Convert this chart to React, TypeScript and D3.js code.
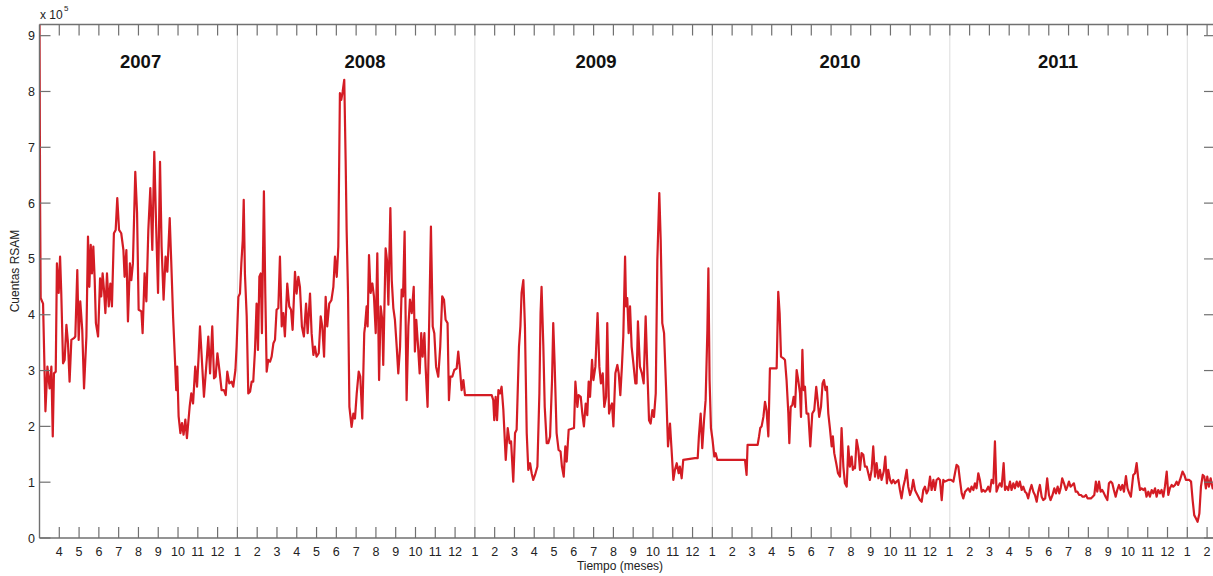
import React from 'react';
import * as d3 from 'd3';

// RSAM counts (x 10^5) against time, in months counted from January 2007
const seg2007: [number, number][] = [
  [2.00, 9.3], [2.03, 6.0], [2.06, 4.30], [2.18, 4.20], [2.30, 2.27], [2.40, 3.07], [2.51, 2.68], [2.60, 3.07],
  [2.67, 1.82], [2.73, 2.95], [2.82, 2.98], [2.88, 4.92], [2.97, 4.39], [3.04, 5.04], [3.10, 4.39], [3.19, 3.13],
  [3.27, 3.19], [3.36, 3.82], [3.44, 3.49], [3.52, 2.80], [3.61, 3.55], [3.74, 3.58], [3.81, 3.61], [3.91, 4.80],
  [3.98, 3.55], [4.06, 4.24], [4.16, 3.73], [4.25, 2.68], [4.37, 3.61], [4.45, 5.40], [4.52, 4.50], [4.59, 5.25],
  [4.65, 4.74], [4.72, 5.22], [4.79, 4.62], [4.85, 3.85], [4.96, 3.61], [5.06, 4.65], [5.12, 4.33], [5.19, 4.74],
  [5.26, 4.44], [5.33, 4.03], [5.41, 4.74], [5.50, 4.15], [5.58, 4.56], [5.66, 4.15], [5.76, 5.46], [5.85, 5.52],
  [5.93, 6.09], [6.02, 5.52], [6.13, 5.46], [6.24, 5.16], [6.30, 4.68], [6.39, 5.16], [6.47, 3.88], [6.57, 4.92],
  [6.64, 4.62], [6.72, 4.92], [6.84, 6.56], [6.93, 5.82], [7.01, 4.09], [7.15, 4.06], [7.21, 3.67], [7.31, 4.74],
  [7.40, 4.24], [7.50, 5.52], [7.60, 6.27], [7.70, 5.16], [7.80, 6.92], [7.89, 5.64], [7.99, 4.39], [8.09, 6.74],
  [8.17, 5.22], [8.27, 4.27], [8.37, 5.04], [8.46, 4.77], [8.58, 5.73], [8.66, 4.92], [8.75, 3.97], [8.86, 3.07],
  [8.91, 2.65], [8.96, 3.07], [9.03, 2.18], [9.12, 1.88], [9.20, 2.06], [9.28, 1.85], [9.37, 2.12], [9.45, 1.79],
  [9.59, 2.36], [9.67, 2.59], [9.76, 2.41], [9.87, 3.07], [9.96, 2.71], [10.04, 3.25], [10.11, 3.79], [10.31, 2.53],
  [10.45, 3.19], [10.53, 3.61], [10.62, 2.95], [10.73, 3.79], [10.82, 2.86], [10.90, 2.89], [10.99, 3.31], [11.09, 3.01],
  [11.20, 2.65], [11.32, 2.65], [11.41, 2.56], [11.49, 2.98], [11.59, 2.77], [11.71, 2.80], [11.79, 2.71], [11.90, 3.01],
  [11.96, 3.43],
];

const seg2008: [number, number][] = [
  [12.05, 4.32], [12.13, 4.38], [12.20, 4.92], [12.27, 5.34], [12.32, 6.06], [12.38, 4.74], [12.47, 3.97], [12.55, 2.59],
  [12.64, 2.62], [12.72, 2.80], [12.80, 2.80], [12.89, 3.37], [12.97, 4.20], [13.04, 3.37], [13.11, 4.68], [13.18, 4.74],
  [13.24, 3.67], [13.34, 6.21], [13.41, 4.38], [13.48, 2.98], [13.56, 3.19], [13.65, 3.16], [13.73, 3.25], [13.82, 3.49],
  [13.90, 3.55], [13.98, 4.09], [14.07, 4.12], [14.15, 5.04], [14.24, 3.79], [14.32, 4.03], [14.40, 3.61], [14.52, 4.56],
  [14.62, 4.15], [14.71, 4.09], [14.79, 3.73], [14.91, 4.77], [14.99, 4.38], [15.08, 4.68], [15.16, 4.50], [15.26, 3.79],
  [15.36, 3.61], [15.47, 4.20], [15.55, 3.67], [15.67, 4.38], [15.75, 3.67], [15.84, 3.28], [15.92, 3.43], [16.00, 3.25],
  [16.11, 3.31], [16.21, 3.97], [16.29, 3.79], [16.38, 3.25], [16.46, 4.32], [16.54, 3.79], [16.64, 4.20], [16.75, 4.26],
  [16.85, 4.50], [16.93, 5.04], [17.02, 4.68], [17.10, 5.22], [17.18, 7.97], [17.25, 7.85], [17.32, 8.00], [17.40, 8.21],
  [17.47, 6.77], [17.52, 5.52], [17.59, 4.38], [17.66, 2.35], [17.77, 1.99], [17.86, 2.23], [17.94, 2.14], [18.03, 2.59],
  [18.13, 2.98], [18.21, 2.89], [18.31, 2.14], [18.41, 3.67], [18.45, 3.79], [18.53, 4.15], [18.58, 3.79], [18.65, 5.07],
  [18.73, 4.39], [18.82, 4.56], [18.90, 4.33], [18.99, 3.67], [19.07, 5.10], [19.16, 2.83], [19.24, 4.15], [19.32, 3.91],
  [19.37, 3.10], [19.49, 5.19], [19.56, 4.98], [19.63, 4.18], [19.73, 5.91], [19.80, 4.62], [19.88, 4.12], [19.96, 3.91],
  [20.05, 3.43], [20.13, 2.95], [20.22, 3.43], [20.30, 4.45], [20.37, 4.33], [20.45, 5.49], [20.55, 2.47], [20.64, 3.79],
  [20.72, 4.27], [20.81, 4.03], [20.91, 4.50], [20.97, 3.34], [21.04, 3.91], [21.13, 3.43], [21.21, 2.95], [21.29, 3.67],
  [21.36, 3.25], [21.45, 3.67], [21.51, 3.07], [21.61, 2.35], [21.70, 4.03], [21.78, 5.58], [21.87, 3.79], [21.95, 3.67],
  [22.04, 3.07], [22.15, 2.89], [22.25, 3.43], [22.35, 4.33], [22.44, 4.27], [22.52, 3.91], [22.62, 3.85], [22.69, 2.47],
  [22.76, 2.89], [22.86, 2.89], [22.96, 3.01], [23.08, 3.04], [23.16, 3.34], [23.25, 3.01], [23.33, 2.65], [23.42, 2.83],
  [23.50, 2.56],
];

const seg2009: [number, number][] = [
  [24.85, 2.56], [24.93, 2.47], [24.98, 2.11], [25.05, 2.53], [25.12, 2.11], [25.19, 2.65], [25.27, 2.59], [25.35, 2.71],
  [25.44, 2.29], [25.56, 1.40], [25.66, 1.97], [25.76, 1.70], [25.83, 1.73], [25.94, 1.01], [26.03, 1.88], [26.11, 1.94],
  [26.23, 3.43], [26.30, 3.79], [26.36, 4.39], [26.45, 4.62], [26.53, 3.79], [26.62, 1.88], [26.70, 1.22], [26.79, 1.34],
  [26.87, 1.16], [26.95, 1.04], [27.04, 1.13], [27.16, 1.28], [27.26, 2.59], [27.32, 4.03], [27.37, 4.50], [27.46, 3.43],
  [27.53, 2.35], [27.63, 1.70], [27.71, 1.70], [27.80, 1.82], [27.90, 2.83], [27.96, 3.85], [28.03, 3.13], [28.13, 1.88],
  [28.23, 1.58], [28.33, 1.55], [28.40, 1.28], [28.49, 1.10], [28.57, 1.64], [28.64, 1.37], [28.74, 1.94], [29.01, 1.97],
  [29.08, 2.80], [29.18, 2.35], [29.24, 2.56], [29.35, 2.53], [29.43, 2.23], [29.51, 2.00], [29.60, 2.41], [29.68, 2.20],
  [29.75, 2.80], [29.82, 2.53], [29.92, 3.19], [29.99, 2.83], [30.09, 3.07], [30.20, 4.03], [30.29, 3.07], [30.37, 2.77],
  [30.46, 2.95], [30.54, 2.35], [30.63, 2.53], [30.69, 3.85], [30.78, 2.23], [30.86, 2.35], [30.93, 2.41], [31.00, 2.00],
  [31.10, 2.95], [31.20, 3.10], [31.27, 2.95], [31.35, 2.56], [31.43, 3.07], [31.50, 3.61], [31.59, 5.04], [31.64, 4.15],
  [31.70, 4.30], [31.77, 3.67], [31.84, 4.15], [31.92, 3.43], [32.01, 3.13], [32.11, 2.77], [32.17, 2.77], [32.24, 3.88],
  [32.34, 3.07], [32.44, 2.95], [32.53, 2.77], [32.63, 3.97], [32.71, 3.07], [32.80, 2.11], [32.88, 2.05], [32.97, 2.29],
  [33.05, 2.17], [33.14, 2.59], [33.22, 4.98], [33.32, 6.18], [33.39, 5.34], [33.47, 3.85], [33.56, 3.67], [33.66, 2.71],
  [33.76, 1.64], [33.86, 2.05], [33.93, 1.64], [34.03, 1.04], [34.11, 1.22], [34.20, 1.34], [34.30, 1.16], [34.36, 1.28],
  [34.45, 1.07], [34.53, 1.40], [35.12, 1.43], [35.26, 1.43], [35.32, 1.82], [35.41, 2.23], [35.49, 1.61], [35.58, 2.11],
  [35.66, 2.47], [35.75, 3.73], [35.80, 4.83], [35.86, 2.83], [35.93, 1.97],
];

const seg2010: [number, number][] = [
  [36.01, 1.76], [36.10, 1.46], [36.17, 1.52], [36.25, 1.40], [37.65, 1.40], [37.73, 1.13], [37.78, 1.67], [38.29, 1.67],
  [38.36, 1.82], [38.42, 1.97], [38.49, 2.00], [38.58, 2.17], [38.66, 2.44], [38.74, 2.29], [38.83, 1.82], [38.91, 3.04],
  [39.25, 3.04], [39.33, 4.41], [39.40, 4.03], [39.47, 3.25], [39.59, 3.22], [39.67, 3.19], [39.75, 2.83], [39.84, 2.23],
  [39.89, 1.70], [39.96, 2.35], [40.04, 2.38], [40.11, 2.53], [40.18, 2.35], [40.26, 3.01], [40.34, 2.83], [40.43, 2.59],
  [40.48, 2.17], [40.55, 3.37], [40.61, 2.65], [40.68, 2.71], [40.76, 2.23], [40.85, 2.23], [40.95, 1.64], [41.05, 2.23],
  [41.15, 2.29], [41.25, 2.71], [41.32, 2.47], [41.40, 2.17], [41.49, 2.35], [41.57, 2.77], [41.64, 2.83], [41.72, 2.65],
  [41.79, 2.71], [41.86, 2.23], [41.94, 1.97], [42.03, 1.64], [42.09, 1.82], [42.16, 1.52], [42.26, 1.34], [42.35, 1.16],
  [42.45, 1.10], [42.53, 1.97], [42.62, 1.28], [42.70, 0.98], [42.79, 0.92], [42.87, 1.64], [42.95, 1.28], [43.04, 1.46],
  [43.10, 1.22], [43.17, 1.28], [43.21, 1.25], [43.29, 1.76], [43.38, 1.58], [43.46, 1.22], [43.54, 1.52], [43.63, 1.49],
  [43.71, 1.28], [43.80, 1.28], [43.88, 1.16], [43.96, 1.04], [44.05, 1.22], [44.13, 1.64], [44.22, 1.10], [44.30, 1.34],
  [44.39, 1.07], [44.47, 1.22], [44.55, 1.04], [44.66, 1.19], [44.74, 1.46], [44.82, 0.98], [44.89, 1.22], [44.98, 1.04],
  [45.06, 0.98], [45.14, 1.04], [45.23, 0.98], [45.31, 1.01], [45.40, 1.04], [45.48, 0.86], [45.56, 0.71], [45.65, 0.92],
  [45.73, 1.04], [45.82, 1.22], [45.90, 0.92], [45.99, 0.77], [46.07, 0.86], [46.15, 1.04], [46.24, 0.86], [46.32, 0.80],
  [46.41, 0.74], [46.49, 0.68], [46.58, 0.65], [46.66, 0.86], [46.74, 0.92], [46.83, 0.80], [46.91, 0.86], [47.00, 1.10],
  [47.08, 0.86], [47.17, 1.04], [47.25, 0.86], [47.33, 1.04], [47.42, 1.07], [47.50, 1.04], [47.59, 0.68], [47.67, 1.04],
  [47.75, 1.01], [47.92, 1.04],
];

const seg2011: [number, number][] = [
  [48.06, 1.04], [48.18, 1.01], [48.26, 1.16], [48.34, 1.31], [48.43, 1.28], [48.51, 1.04], [48.60, 0.80], [48.68, 0.71],
  [48.77, 0.83], [48.85, 0.86], [48.93, 0.89], [49.02, 0.83], [49.10, 0.92], [49.19, 0.86], [49.27, 0.98], [49.35, 0.89],
  [49.44, 1.16], [49.52, 1.04], [49.61, 0.83], [49.69, 0.86], [49.78, 0.83], [49.86, 0.86], [49.94, 0.92], [50.03, 0.83],
  [50.11, 1.04], [50.20, 0.98], [50.28, 1.73], [50.36, 0.83], [50.45, 0.92], [50.53, 0.98], [50.62, 0.92], [50.72, 1.34],
  [50.79, 0.86], [50.87, 0.92], [50.95, 0.86], [51.04, 1.01], [51.12, 0.86], [51.21, 0.98], [51.29, 0.89], [51.38, 1.01],
  [51.46, 0.92], [51.54, 1.01], [51.63, 0.86], [51.71, 0.92], [51.80, 0.83], [51.88, 0.80], [51.96, 0.71], [52.05, 0.86],
  [52.13, 0.95], [52.22, 0.83], [52.30, 0.77], [52.39, 0.65], [52.47, 0.83], [52.55, 0.95], [52.64, 0.74], [52.72, 0.68],
  [52.82, 0.71], [52.92, 1.07], [53.01, 0.77], [53.09, 0.68], [53.19, 0.77], [53.28, 0.89], [53.36, 0.80], [53.45, 0.92],
  [53.53, 0.80], [53.60, 0.89], [53.68, 1.07], [53.77, 0.98], [53.87, 0.86], [53.94, 0.92], [54.02, 1.01], [54.10, 0.92],
  [54.19, 0.95], [54.27, 0.98], [54.36, 0.83], [54.44, 0.83], [54.54, 0.77], [54.63, 0.77], [54.71, 0.74], [54.79, 0.74],
  [54.88, 0.77], [54.96, 0.71], [55.05, 0.71], [55.13, 0.71], [55.22, 0.74], [55.30, 0.77], [55.38, 1.01], [55.45, 0.83],
  [55.54, 1.01], [55.62, 0.83], [55.70, 0.86], [55.79, 0.80], [55.87, 0.74], [55.96, 0.68], [56.04, 0.98], [56.13, 1.01],
  [56.21, 0.98], [56.29, 0.86], [56.38, 0.74], [56.46, 0.86], [56.55, 0.95], [56.63, 0.86], [56.72, 0.95], [56.80, 0.83],
  [56.90, 1.11], [56.98, 0.89], [57.07, 0.80], [57.15, 0.74], [57.27, 1.13], [57.36, 1.16], [57.44, 1.34], [57.52, 1.07],
  [57.61, 0.86], [57.69, 0.89], [57.78, 0.86], [57.86, 0.89], [57.94, 0.74], [58.03, 0.83], [58.11, 0.74], [58.20, 0.86],
  [58.28, 0.80], [58.37, 0.89], [58.45, 0.74], [58.53, 0.86], [58.62, 0.80], [58.70, 0.86], [58.79, 0.74], [58.87, 0.92],
  [58.96, 1.19], [59.04, 0.77], [59.12, 0.89], [59.21, 0.95], [59.29, 0.92], [59.38, 0.95], [59.46, 1.01], [59.54, 0.95],
  [59.63, 1.04], [59.76, 1.19], [59.85, 1.13], [59.93, 1.04],
];

const seg2012: [number, number][] = [
  [60.02, 1.04], [60.10, 1.04], [60.19, 1.01], [60.27, 0.68], [60.35, 0.41], [60.44, 0.35], [60.52, 0.29], [60.61, 0.44],
  [60.69, 0.92], [60.78, 1.13], [60.86, 1.10], [60.94, 0.89], [61.01, 1.10], [61.09, 0.92], [61.18, 1.07], [61.28, 0.89],
  [61.45, 1.02],
];

const years = ['2007', '2008', '2009', '2010', '2011'];
const yearLabelAt = [7.11, 18.45, 30.12, 42.45, 53.47]; // month where each year label is centred
const yearStarts = [12, 24, 36, 48, 60];
const yTicks = [0, 1, 2, 3, 4, 5, 6, 7, 8, 9];
const monthTicks = d3.range(3, 62);

const W = 1213;
const H = 576;
const left = 39.5;
const right = 1215;
const top = 24.5;
const bottom = 538;
const font = '"Liberation Sans", Arial, Helvetica, sans-serif';
const axisColor = '#707070';
const red = '#d41c24';

export default function App() {
  const data = [...seg2007, ...seg2008, ...seg2009, ...seg2010, ...seg2011, ...seg2012];

  const x = d3.scaleLinear().domain([2, 61.4]).range([left, right]);
  const y = d3.scaleLinear().domain([0, 9.2]).range([bottom, top]);

  const line = d3.line<[number, number]>()
    .x((d) => x(d[0]))
    .y((d) => y(d[1]));

  const tickLen = 11;

  return (
    <svg
      width={W}
      height={H}
      style={{ position: 'absolute', left: 0, top: 0, background: '#fff', display: 'block' }}
      fontFamily={font}
    >
      <defs>
        <clipPath id="plot">
          <rect x={left} y={top} width={right - left} height={bottom - top} />
        </clipPath>
      </defs>

      {/* year separators */}
      {yearStarts.map((m) => (
        <line key={m} x1={x(m)} x2={x(m)} y1={top} y2={bottom} stroke="#dcdcdc" strokeWidth={1} />
      ))}

      {/* year labels */}
      {years.map((yr, i) => (
        <text key={yr} x={x(yearLabelAt[i])} y={67.5} textAnchor="middle" fontSize={18.5} fontWeight="bold" fill="#111">
          {yr}
        </text>
      ))}

      {/* data */}
      <path d={line(data) ?? ''} fill="none" stroke={red} strokeWidth={2.2} strokeLinejoin="round" clipPath="url(#plot)" />

      {/* frame */}
      <line x1={left} x2={right} y1={bottom} y2={bottom} stroke={axisColor} strokeWidth={1.4} />
      <line x1={left} x2={right} y1={top} y2={top} stroke={axisColor} strokeWidth={1.4} />
      <line x1={left} x2={left} y1={top} y2={bottom} stroke={axisColor} strokeWidth={1.4} />
      <line x1={right} x2={right} y1={top} y2={bottom} stroke={axisColor} strokeWidth={1.4} />

      {/* month ticks, bottom and top */}
      {monthTicks.map((m) => (
        <g key={m}>
          <line x1={x(m)} x2={x(m)} y1={bottom} y2={bottom - tickLen} stroke={axisColor} strokeWidth={1.2} />
          <line x1={x(m)} x2={x(m)} y1={top} y2={top + tickLen} stroke={axisColor} strokeWidth={1.2} />
          <text x={x(m)} y={555.5} textAnchor="middle" fontSize={12.5} fill="#222">
            {(m % 12) + 1}
          </text>
        </g>
      ))}

      {/* y ticks, left and right */}
      {yTicks.map((t) => (
        <g key={t}>
          <line x1={left} x2={left + tickLen} y1={y(t)} y2={y(t)} stroke={axisColor} strokeWidth={1.2} />
          <line x1={right} x2={right - tickLen} y1={y(t)} y2={y(t)} stroke={axisColor} strokeWidth={1.2} />
          <text x={35} y={y(t) + 4.5} textAnchor="end" fontSize={12.5} fill="#222">
            {t}
          </text>
        </g>
      ))}

      {/* exponent */}
      <text x={40} y={19} fontSize={12} fill="#222">
        x 10
      </text>
      <text x={64} y={11} fontSize={8} fill="#222">
        5
      </text>

      {/* axis titles */}
      <text x={620} y={570} textAnchor="middle" fontSize={12} fill="#222">
        Tiempo (meses)
      </text>
      <text transform="translate(19,271) rotate(-90)" textAnchor="middle" fontSize={12} fill="#222">
        Cuentas RSAM
      </text>
    </svg>
  );
}
